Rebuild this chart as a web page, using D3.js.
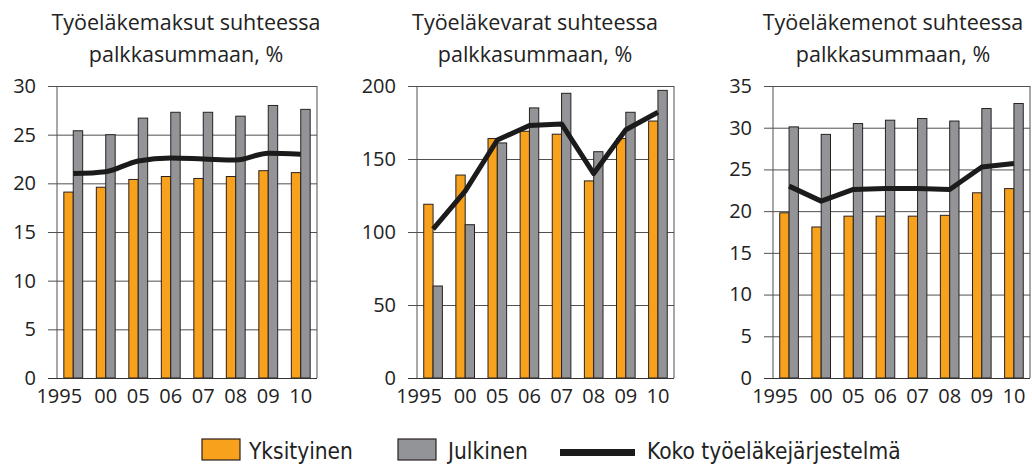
<!DOCTYPE html>
<html>
<head>
<meta charset="utf-8">
<script src="https://cdn.jsdelivr.net/npm/d3@7"></script>
<style>
  body { margin: 0; background: #fff; }
  svg { display: block; }
</style>
</head>
<body>
<svg id="chart" width="1032" height="466"></svg>
<script>
(function() {
  var width = 1032,
    height = 466;

  // data
  var years = ["1995", "00", "05", "06", "07", "08", "09", "10"];

  var maksutYksityinen = [19.1, 19.6, 20.4, 20.7, 20.5, 20.7, 21.3, 21.1];
  var maksutJulkinen = [25.4, 25.0, 26.7, 27.3, 27.3, 26.9, 28.0, 27.6];
  var maksutKoko = [21.0, 21.2, 22.3, 22.6, 22.5, 22.4, 23.1, 23.0];

  var varatYksityinen = [119, 139, 164, 169, 167, 135, 164, 176];
  var varatJulkinen = [63, 105, 161, 185, 195, 155, 182, 197];
  var varatKoko = [102, 128, 163, 173, 174, 140, 170, 182];

  var menotYksityinen = [19.8, 18.1, 19.4, 19.4, 19.4, 19.5, 22.2, 22.7];
  var menotJulkinen = [30.1, 29.2, 30.5, 30.9, 31.1, 30.8, 32.3, 32.9];
  var menotKoko = [23.0, 21.2, 22.6, 22.7, 22.7, 22.6, 25.3, 25.7];

  var ticks1 = [0, 5, 10, 15, 20, 25, 30];
  var ticks2 = [0, 50, 100, 150, 200];
  var ticks3 = [0, 5, 10, 15, 20, 25, 30, 35];

  var legendLabels = ["Yksityinen", "Julkinen", "Koko työeläkejärjestelmä"];

  var orange = "#f7a11c",
    gray = "#929497",
    dark = "#1b1b1b",
    gridColor = "#505050";

  var panels = [
    { title: ["Työeläkemaksut suhteessa", "palkkasummaan, %"], tx: 186, x0: 57, x1: 317,
      ticks: ticks1, a: maksutYksityinen, b: maksutJulkinen, c: maksutKoko, curve: d3.curveMonotoneX },
    { title: ["Työeläkevarat suhteessa", "palkkasummaan, %"], tx: 535, x0: 417, x1: 674,
      ticks: ticks2, a: varatYksityinen, b: varatJulkinen, c: varatKoko, curve: d3.curveLinear },
    { title: ["Työeläkemenot suhteessa", "palkkasummaan, %"], tx: 893, x0: 773, x1: 1030,
      ticks: ticks3, a: menotYksityinen, b: menotJulkinen, c: menotKoko, curve: d3.curveLinear }
  ];

  var top = 86,
    bottom = 378;

  var svg = d3.select("#chart");
  var numFont = "'Open Sans', 'Noto Sans', sans-serif";

  panels.forEach(function(p) {
    var x = d3.scaleBand()
      .domain(years)
      .range([p.x0, p.x1])
      .paddingInner(0.42)
      .paddingOuter(0.21);

    var y = d3.scaleLinear()
      .domain([0, d3.max(p.ticks)])
      .range([bottom, top]);

    var g = svg.append("g");

    // title
    g.append("text")
      .attr("text-anchor", "middle")
      .attr("font-family", numFont)
      .attr("font-size", 21.5)
      .attr("fill", "#222")
      .selectAll("tspan")
      .data(p.title)
      .enter()
      .append("tspan")
      .attr("x", p.tx)
      .attr("y", function(d, i) { return 30 + i * 32; })
      .text(function(d) { return d; });

    // grid lines
    g.append("g")
      .attr("transform", "translate(" + p.x0 + ",0)")
      .call(d3.axisLeft(y).tickValues(p.ticks).tickSize(-(p.x1 - p.x0)).tickFormat(""))
      .call(function(s) {
        s.select(".domain").remove();
        s.selectAll("line").attr("stroke", gridColor).attr("stroke-width", 1);
      });

    // y axis with labels
    g.append("g")
      .attr("transform", "translate(" + p.x0 + ",0)")
      .call(d3.axisLeft(y).tickValues(p.ticks).tickSize(9).tickSizeOuter(0).tickPadding(12))
      .call(function(s) {
        s.select(".domain").remove();
        s.selectAll("line").attr("stroke", gridColor);
        s.selectAll("text")
          .attr("font-family", numFont)
          .attr("font-size", 20)
          .attr("fill", "#222");
      });

    // bars
    var half = x.bandwidth() / 2;
    g.append("g")
      .selectAll("rect.a")
      .data(p.a)
      .enter()
      .append("rect")
      .attr("x", function(d, i) { return x(years[i]); })
      .attr("y", function(d) { return y(d); })
      .attr("width", half)
      .attr("height", function(d) { return bottom - y(d); })
      .attr("fill", orange)
      .attr("stroke", "#2a2020")
      .attr("stroke-width", 1);

    g.append("g")
      .selectAll("rect.b")
      .data(p.b)
      .enter()
      .append("rect")
      .attr("x", function(d, i) { return x(years[i]) + half; })
      .attr("y", function(d) { return y(d); })
      .attr("width", half)
      .attr("height", function(d) { return bottom - y(d); })
      .attr("fill", gray)
      .attr("stroke", "#2a2020")
      .attr("stroke-width", 1);

    // frame: left, right
    g.append("line")
      .attr("x1", p.x0).attr("x2", p.x0)
      .attr("y1", top).attr("y2", bottom)
      .attr("stroke", gridColor);
    g.append("line")
      .attr("x1", p.x1).attr("x2", p.x1)
      .attr("y1", top).attr("y2", bottom)
      .attr("stroke", gridColor);

    // x axis
    g.append("g")
      .attr("transform", "translate(0," + bottom + ")")
      .call(d3.axisBottom(x).tickSize(0).tickPadding(11))
      .call(function(s) {
        s.select(".domain").attr("d", "M" + (p.x0 - 9) + ",0.5H" + p.x1).attr("stroke", "#333");
        s.selectAll("text")
          .attr("font-family", numFont)
          .attr("font-size", 20)
          .attr("fill", "#222")
          .attr("dx", function(d) { return d === "1995" ? "-0.7em" : 0; });
      });

    // total line
    var line = d3.line()
      .x(function(d, i) { return x(years[i]) + half; })
      .y(function(d) { return y(d); })
      .curve(p.curve);

    g.append("path")
      .datum(p.c)
      .attr("d", line)
      .attr("fill", "none")
      .attr("stroke", dark)
      .attr("stroke-width", 5)
      .attr("stroke-linejoin", "round");
  });

  // legend
  var legFont = "'DejaVu Sans Condensed', 'Liberation Sans Narrow', sans-serif";
  var leg = svg.append("g");
  var items = [
    { x: 202, tx: 249, type: "box", color: orange },
    { x: 398, tx: 448, type: "box", color: gray },
    { x: 560, tx: 647, type: "line", color: dark }
  ];
  items.forEach(function(it, i) {
    if (it.type === "box") {
      leg.append("rect")
        .attr("x", it.x).attr("y", 439)
        .attr("width", 38).attr("height", 21)
        .attr("fill", it.color)
        .attr("stroke", "#2a2020").attr("stroke-width", 1.2);
    } else {
      leg.append("rect")
        .attr("x", it.x).attr("y", 449)
        .attr("width", 75).attr("height", 7)
        .attr("fill", it.color);
    }
    leg.append("text")
      .attr("x", it.tx).attr("y", 459)
      .attr("font-family", legFont)
      .attr("font-stretch", "condensed")
      .attr("font-size", 22.5)
      .attr("fill", "#222")
      .text(legendLabels[i]);
  });
})();
</script>
</body>
</html>
